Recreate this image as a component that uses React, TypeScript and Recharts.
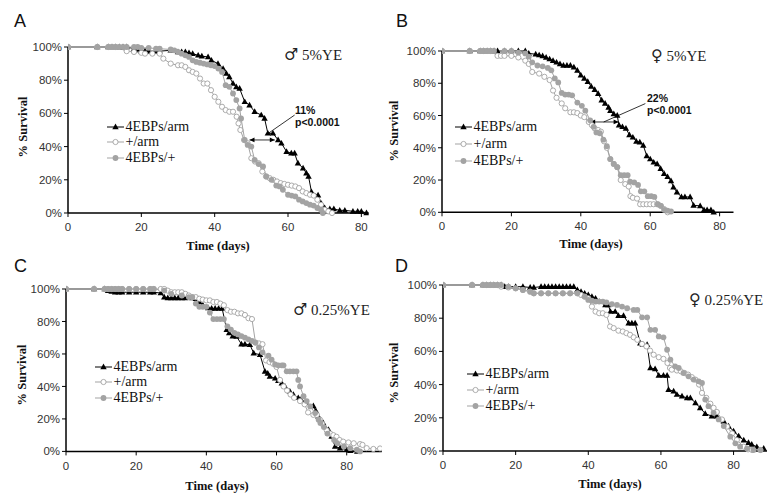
import { Legend, Line, LineChart, ReferenceLine, XAxis, YAxis } from "recharts";

type Pt = [number, number];

// [day, % survival]
const A_ebpArm: Pt[] = [[0,100],[8,100],[11,100],[12,100],[13,100],[14,100],[15,100],[16,100],[18,99],[19,98.5],[20,97.5],[21,97.5],[22,97.5],[24,97.5],[25,97.5],[28,98],[30,97],[31,97],[32,97],[33,96.5],[34,96],[35.5,95],[36.5,94.5],[38.2,94],[39.1,92],[40.9,90],[42.3,87],[43.2,84],[44,82],[45,78],[45.9,76],[46.8,75],[48.2,67],[49.5,65],[50.9,61],[52.7,59],[53.6,57],[54.5,48],[55.9,48],[57.3,44],[58.2,42],[59.6,37],[60.9,36],[61.8,36],[62.7,30],[64.1,27],[65,24],[65.6,22],[66.4,12.7],[68.2,10.7],[69.1,5.7],[70,3],[71.4,2.4],[72.5,2.4],[74.1,1.6],[75.5,1.6],[77.7,1],[79,1],[80,1],[81.4,0]];
const A_plusArm: Pt[] = [[0,100],[8,100],[11,100],[12,100],[13,100],[16,97.5],[18,97],[20,96.5],[21,96],[23,96],[25,96],[26,93],[28,90],[30,89],[31,89],[32,88],[33,86],[34,85],[35,84],[36,81],[37,78],[38,78],[39,74],[40,70],[41,67],[42,64],[43,62],[44,61],[45,61],[46,58],[46.5,54],[47,50],[48,44],[49,42],[50,33],[51,31],[52,30],[53,25],[54,22],[55,21],[56,20],[57,19],[58,18],[59,17.5],[60,17],[61,16.5],[62,16],[63,15],[64,13],[65,12],[66,11],[67,10.5],[68,8],[69,5],[70,2],[71,1],[72,0]];
const A_ebpPlus: Pt[] = [[0,100],[8,100],[11,100],[12,100],[13,100],[14,100],[15,100],[16,100],[18,100],[19,100],[20,99.5],[22,99.5],[24,99],[25,99],[28,98.5],[29,98],[30,97],[31,96],[32,95],[33,94],[34,92],[35,91],[36,90.5],[37,90],[38,89.5],[39,89],[40,88.5],[41,87],[42,85],[43,77],[44,76],[45,72],[45.9,68],[46.8,63],[47.2,57],[48.2,44],[49,41],[50,40],[50.9,32],[52,29.5],[53.2,28],[54.1,22],[55.5,20],[56.8,16.5],[57.7,16],[58.6,14],[60,11],[61,10.5],[62,10],[63,8],[64,7],[65,6],[66,5],[67,4.5],[68,3],[69,2],[69.5,0]];

const B_ebpArm: Pt[] = [[0,100],[8,100],[11,100],[12,100],[13,100],[14,100],[15,100],[16,100],[18,100],[20,100],[22,100],[24,100],[25,98.5],[27,98],[28,97.5],[29,97],[30,96],[31,95],[32,94],[33,93],[34,92],[35,91],[36,91],[37,91],[38,90],[39,88],[40,85],[41,83],[42,81],[43,78],[44,76],[45,73.5],[46,69.5],[47,67.5],[48,65],[48.5,63],[49.5,61],[50.5,60],[51,54],[52,53],[53,52],[54,48],[55,46.5],[56,44],[57,43.5],[58,41.5],[59,35],[60,33],[61,31],[62,30],[63,27],[64,24],[65,22],[66,19.5],[66.7,15.5],[67.7,12.5],[69,9.5],[70,9.5],[71.5,9.5],[72.5,4.3],[74.4,4],[75.5,1.5],[76.4,1.5],[77.5,1.5],[78.3,0]];
const B_plusArm: Pt[] = [[0,100],[8,100],[11,100],[12,100],[13,100],[14,100],[16,97],[17,97],[18,97],[20,97],[22,96],[24,94],[25,92],[26,87],[28,86],[29.5,84],[31,82],[32,75.5],[33,71],[34.5,67.5],[35.5,64.5],[37,62],[38,62],[39,61.5],[40,60],[41,59],[42.3,56],[43.2,54],[44,52],[45,51],[45.8,50],[46.7,44],[47.5,40],[48.5,33],[49.5,30],[50.5,28],[51.5,20],[52.8,17.5],[53.8,16],[54.3,10],[55,9],[56.2,8.5],[57.1,5],[58,5],[59,5],[60,5],[61,5],[62,5],[63,4],[64,2],[65,0]];
const B_ebpPlus: Pt[] = [[0,100],[8,100],[11,100],[12,100],[13,100],[14,100],[15,100],[18,100],[20,100],[22,99],[24,98.5],[25,96.5],[26,93],[27.5,91],[29,90.5],[30.5,89.5],[31.5,88],[32.5,83],[33.5,80.5],[34.5,74],[35.5,73],[36.5,73],[37.5,72.5],[39,68],[40.3,66],[41.3,63],[42.7,57],[43.7,53],[44.5,49.5],[45.5,49],[46.5,45],[47.5,41],[48.5,33],[49.5,30],[50.5,28],[51.5,23],[52.5,23],[53.5,23],[54.2,19],[55.4,18.5],[56.5,17],[57.3,13],[58.3,13],[59.3,10],[60.3,10],[61.2,9.5],[62.2,5],[63.1,4],[64.1,1.5],[65,1],[66,0.5]];

const C_ebpArm: Pt[] = [[0,100],[8,100],[11,100],[12,99],[13,98.5],[14,98],[15,98],[16,98],[18,98],[20,98],[22,98],[24,98],[25,98],[27,97.5],[28,95],[29,94.5],[30,94.5],[31,94.5],[32,94.5],[33,94.5],[34,94.5],[36,94.5],[37,94],[38,92],[39,90],[40.5,88.3],[41.5,88],[42.5,88],[43.5,88],[44.5,88],[45.8,75],[46.5,73],[47.5,71],[48.6,70.8],[50,66],[51,66],[52.4,65.7],[53.5,60.5],[55.3,59.5],[56.7,49.3],[57.5,48],[58.1,46.2],[59.6,45],[60.5,43.5],[61.5,42],[62.4,40],[63.8,37],[64.8,35],[66.2,33],[67,32],[68.1,30],[70.5,28],[71.2,25],[71.9,21.6],[73.3,17.5],[74.8,13.4],[75.7,9.2],[76.7,3],[78.1,2],[80,1],[81,0.5],[83,0]];
const C_plusArm: Pt[] = [[0,100],[8,100],[11,100],[12,100],[13,100],[14,100],[15,100],[16,100],[18,100],[20,100],[22,100],[24,100],[25,100],[27,100],[28,100],[29,99],[30,98],[31,98],[32,98],[33,98],[34,97],[35,96],[36,95],[37,95],[38,94],[39,93.5],[40,93],[41,93],[42,92],[43,92],[44,91],[45,90],[46,87],[47,86],[48,86],[49,85],[50,85],[51,84],[52,82],[53,81.5],[54,67],[55,66.5],[56,66],[57,56],[58,55],[59,54],[60,52],[61,44],[62,40],[63,37.5],[64,35],[65,33],[66.7,31],[68,29],[69,24],[70.5,22.5],[71.5,22.5],[72.4,19.5],[73,17],[74.3,13],[75.3,11],[76.2,10],[77.1,9],[78,7],[79,6],[80.5,5.5],[82,5],[83.8,4.5],[84.5,4],[85.7,2],[87.6,1.5],[89.5,1.8]];
const C_ebpPlus: Pt[] = [[0,100],[8,100],[11,100],[12,100],[13,100],[14,100],[15,100],[16,100],[18,100],[20,100],[22,100],[24,100],[25,100],[28,99],[30,97],[33,96],[35,95],[36,95],[37,91],[38,89],[39,89],[40,89],[41,85.5],[42,81.5],[43,81.5],[44,81.5],[45,81.5],[46,77],[47,75],[48,73],[49,72],[50,71],[51,70],[52,69],[53,68],[54,67],[55,64],[56,61],[57.7,59],[58.6,56.5],[59.6,53.5],[60.5,53],[61.5,53],[62,53],[62.9,49.3],[63.8,49.3],[64.8,49.3],[65.7,49.3],[66.2,44],[66.7,40],[67.7,34],[68.6,31],[69.6,27.7],[71,23.6],[72,19.5],[72.5,17.5],[73.5,15],[74.5,11],[76.4,7],[77.3,5],[79.2,3],[81,2],[82.9,1],[83.8,0]];

const D_ebpArm: Pt[] = [[0,100],[8,100],[11,100],[12,100],[13,100],[14,100],[15,100],[16,100],[17,99],[18,99],[20,99],[22,99],[24,98.5],[25,98.5],[27,99],[28,99],[29,99],[30,99],[31,99],[32,99],[33,99],[34,99],[35,99],[36,99],[37,97],[38,96],[39,95],[40,94],[41,93],[42,92],[43,90],[44.7,88],[45.5,88],[46.1,84],[47.4,84],[48.3,81.5],[49.7,81.5],[51.1,77],[52,77],[52.9,77],[54.3,65],[55,64],[56.2,64],[57.1,50],[58.4,49.5],[59.4,45.5],[60.7,45.5],[61.7,45.5],[62.1,37],[63.5,36],[64.4,34],[65.8,33],[67.2,32],[68.1,32],[69.5,29],[70.8,26],[72.2,22.5],[74,21],[75.4,21],[77.3,18],[78.6,15],[80,12],[81.4,9],[82.8,6.5],[84.1,5],[85,4],[86.4,2.5],[88.3,1.5]];
const D_plusArm: Pt[] = [[0,100],[8,100],[11,100],[12,100],[13,100],[14,100],[15,100],[16,99],[18,98.5],[20,98],[22,97],[24,96],[25,95],[27,95],[29,95],[31,95],[33,95],[35,95],[37,95],[38,94],[39,93],[40,92],[41,87],[42,84],[43,83],[44,83],[45,82],[46,75],[47,74],[48.3,72.5],[49.5,72],[50.5,71],[51.5,70],[52.5,68.5],[53.5,67],[54.8,64.5],[56,63],[57,60.5],[58,58],[59.4,56.5],[60.7,55.5],[61.8,53],[62.5,50],[63,49],[64.4,48.5],[65.5,48],[66.5,47],[67.5,46],[68.5,44.5],[69.5,43],[70.5,40],[71.3,35],[72.5,32],[73.6,28.5],[74.5,26],[75.4,23.5],[76.8,19],[78.2,14.7],[79.6,10.6],[80.9,6.6],[82.8,2.6],[84,1],[85.1,0.6],[87.4,0.6]];
const D_ebpPlus: Pt[] = [[0,100],[8,100],[11,100],[12,100],[13,100],[14,100],[15,100],[16,100],[18,99],[20,98],[22,97],[24,96],[25,95],[27,95],[29,95],[31,95],[33,95],[35,95],[37,95],[39,93],[40,91],[41,90.5],[42,90],[43,90],[44,90],[45,89.5],[46.5,88.5],[47.9,88],[49.3,87],[50.7,86],[52.5,85],[53.5,85],[54.8,80.5],[56.2,80.5],[57.1,73],[58.4,73],[59.4,69],[60.7,68.5],[61.7,61],[62.6,55],[63.9,51],[64.9,50],[66.2,47],[67.6,45],[69,43],[70.4,42],[71.3,41],[72.2,31],[73.1,27],[74.5,23],[75.9,19],[77.3,15],[79.1,8.6],[80.5,4.6],[81.8,2.6],[83.7,1.6],[85.5,0.6],[87.4,0.6]];

const SERIES_NAMES = ["4EBPs/arm", "+/arm", "4EBPs/+"];
const DAY_TICKS = [0, 20, 40, 60, 80];
const PCT_TICKS = [0, 20, 40, 60, 80, 100];

const GRAY = "#a3a3a3";
const SERIF = "'Liberation Serif', 'Times New Roman', serif";
const SANS = "'Liberation Sans', Arial, sans-serif";
const SYMBOL = "'DejaVu Serif', 'DejaVu Sans', serif";

const toRows = (pts: Pt[]) => pts.map(([t, s]) => ({ t, s }));

function Marker({ kind, cx, cy }: { kind: number; cx: number; cy: number }) {
  if (cx == null || cy == null) return null;
  if (kind === 0)
    return <path d={`M${cx},${cy - 3.4}L${cx + 3.2},${cy + 2.3}L${cx - 3.2},${cy + 2.3}Z`} fill="#000" />;
  if (kind === 1) return <circle cx={cx} cy={cy} r={2.6} fill="#fff" stroke={GRAY} strokeWidth={0.9} />;
  return <circle cx={cx} cy={cy} r={2.9} fill={GRAY} />;
}

type Arrow = { from: Pt; to: Pt; heads: boolean };

function arrowShape(heads: boolean) {
  return (p: any) => {
    const { x1, y1, x2, y2 } = p;
    const dx = x2 - x1;
    const dy = y2 - y1;
    const len = Math.hypot(dx, dy) || 1;
    const ux = dx / len;
    const uy = dy / len;
    const head = (x: number, y: number, sx: number, sy: number) =>
      `M${x},${y}L${x + sx * 5 - sy * 2.4},${y + sy * 5 + sx * 2.4}L${x + sx * 5 + sy * 2.4},${y + sy * 5 - sx * 2.4}Z`;
    return (
      <g>
        <line x1={x1} y1={y1} x2={x2} y2={y2} stroke="#000" strokeWidth={0.8} />
        {heads && <path d={head(x1, y1, ux, uy)} fill="#000" />}
        {heads && <path d={head(x2, y2, -ux, -uy)} fill="#000" />}
      </g>
    );
  };
}

type PanelProps = {
  px: number;
  py: number;
  pw: number;
  ph: number;
  xMax: number;
  series: Pt[][];
  legendX: number;
  legendY: number;
  legendGap: number;
  arrows: Arrow[];
};

const YW = 60;
const TOP = 10;
const XH = 45;

function Panel({ px, py, pw, ph, xMax, series, legendX, legendY, legendGap, arrows }: PanelProps) {
  const left = px - YW;
  const top = py - TOP;
  const width = pw + YW + 10;
  const height = ph + TOP + XH;
  const tick = { fontSize: 11.5, fill: "#333", fontFamily: SANS };

  const legendContent = () => (
    <div style={{ fontFamily: SERIF, fontSize: 14, color: "#111" }}>
      {SERIES_NAMES.map((n, i) => (
        <div key={n} style={{ display: "flex", alignItems: "center", height: legendGap, whiteSpace: "nowrap" }}>
          <svg width={17} height={10} style={{ display: "block" }}>
            <line x1={0} y1={5} x2={17} y2={5} stroke={i === 0 ? "#000" : GRAY} strokeWidth={1} />
            <Marker kind={i} cx={8.5} cy={5} />
          </svg>
          <span style={{ marginLeft: 1.5, fontFamily: SERIF }}>{n}</span>
        </div>
      ))}
    </div>
  );

  return (
    <div style={{ position: "absolute", left, top }}>
      <LineChart width={width} height={height} margin={{ top: TOP, right: 10, bottom: 0, left: 0 }}>
        <XAxis
          type="number"
          dataKey="t"
          domain={[0, xMax]}
          ticks={DAY_TICKS}
          allowDataOverflow
          height={XH}
          tick={tick}
          tickSize={4}
          tickMargin={6}
          tickLine={{ stroke: "#000" }}
          axisLine={{ stroke: "#000", strokeWidth: 1.5 }}
        />
        <YAxis
          type="number"
          domain={[0, 100]}
          ticks={PCT_TICKS}
          width={YW}
          tick={tick}
          tickSize={4}
          tickMargin={2}
          tickFormatter={(v: number) => `${v}%`}
          tickLine={{ stroke: "#000" }}
          axisLine={{ stroke: "#000", strokeWidth: 1.5 }}
        />
        <Legend
          layout="vertical"
          align="center"
          verticalAlign="middle"
          content={legendContent}
          wrapperStyle={{ left: legendX - left, top: legendY - legendGap / 2 - top, width: "auto", fontFamily: SERIF }}
        />
        {series.map((pts, i) => (
          <Line
            key={SERIES_NAMES[i]}
            name={SERIES_NAMES[i]}
            data={toRows(pts)}
            dataKey="s"
            type="linear"
            stroke={i === 0 ? "#000" : GRAY}
            strokeWidth={1}
            dot={(p: any) => <Marker key={`${i}-${p.index}`} kind={i} cx={p.cx} cy={p.cy} />}
            activeDot={false}
            isAnimationActive={false}
          />
        ))}
        {arrows.map((a, k) => (
          <ReferenceLine
            key={k}
            segment={[{ x: a.from[0], y: a.from[1] }, { x: a.to[0], y: a.to[1] }]}
            ifOverflow="visible"
            shape={arrowShape(a.heads)}
          />
        ))}
      </LineChart>
    </div>
  );
}

export default function App() {
  const label = { fontFamily: SERIF, fontSize: 12.5, fontWeight: 700, fill: "#111" };
  return (
    <div style={{ position: "absolute", left: 0, top: 0, width: 767, height: 495, overflow: "hidden", background: "#fff" }}>
      <Panel
        px={68.3} py={46.7} pw={300.7} ph={166} xMax={82}
        series={[A_ebpArm, A_plusArm, A_ebpPlus]}
        legendX={107} legendY={127} legendGap={15.5}
        arrows={[
          { from: [49.5, 44], to: [56.4, 44], heads: true },
          { from: [54.5, 47.8], to: [61.8, 59], heads: false },
        ]}
      />
      <Panel
        px={441.7} py={50.7} pw={291.5} ph={161.3} xMax={84}
        series={[B_ebpArm, B_plusArm, B_ebpPlus]}
        legendX={455} legendY={127} legendGap={17.2}
        arrows={[
          { from: [42.7, 56], to: [50.9, 56], heads: true },
          { from: [46.6, 56], to: [58.6, 67.4], heads: false },
        ]}
      />
      <Panel
        px={66} py={289.3} pw={315.8} ph={162.4} xMax={90}
        series={[C_ebpArm, C_plusArm, C_ebpPlus]}
        legendX={95} legendY={367} legendGap={15.5}
        arrows={[]}
      />
      <Panel
        px={442.7} py={285} pw={326.9} ph={166} xMax={90}
        series={[D_ebpArm, D_plusArm, D_ebpPlus]}
        legendX={467} legendY={374} legendGap={15.8}
        arrows={[]}
      />
      <svg width={767} height={495} style={{ position: "absolute", left: 0, top: 0, pointerEvents: "none" }}>
        <g fontFamily={SANS} fontSize={18} fill="#111">
          <text x={14} y={27}>A</text>
          <text x={396} y={27}>B</text>
          <text x={14} y={272}>C</text>
          <text x={395} y={272}>D</text>
        </g>
        <g fontFamily={SERIF} fontSize={15} fill="#222">
          <text x={284} y={60}><tspan fontFamily={SYMBOL} fontSize={16}>♂</tspan> 5%YE</text>
          <text x={651} y={61}><tspan fontFamily={SYMBOL} fontSize={16}>♀</tspan> 5%YE</text>
          <text x={293} y={315}><tspan fontFamily={SYMBOL} fontSize={16}>♂</tspan> 0.25%YE</text>
          <text x={689} y={305}><tspan fontFamily={SYMBOL} fontSize={16}>♀</tspan> 0.25%YE</text>
        </g>
        <g fontFamily={SANS} fontSize={10.5} fontWeight={700} fill="#111">
          <text x={295} y={114}>11%</text>
          <text x={295} y={126}>p&lt;0.0001</text>
          <text x={647} y={102}>22%</text>
          <text x={647} y={114}>p&lt;0.0001</text>
        </g>
        <g {...label} textAnchor="middle">
          <text x={218} y={250}>Time (days)</text>
          <text x={591} y={247.5}>Time (days)</text>
          <text x={217} y={489.5}>Time (days)</text>
          <text x={610} y={487.5}>Time (days)</text>
          <text transform="translate(26.5,127) rotate(-90)">% Survival</text>
          <text transform="translate(397.8,131) rotate(-90)">% Survival</text>
          <text transform="translate(26.2,375) rotate(-90)">% Survival</text>
          <text transform="translate(397.8,373) rotate(-90)">% Survival</text>
        </g>
      </svg>
    </div>
  );
}
